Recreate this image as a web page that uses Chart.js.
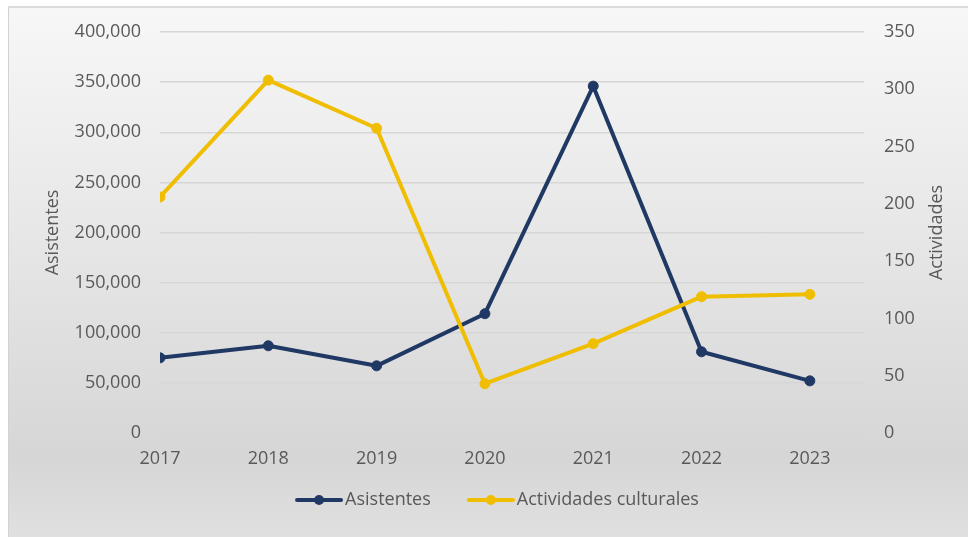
<!DOCTYPE html>
<html>
<head>
<meta charset="utf-8">
<script src="https://cdn.jsdelivr.net/npm/chart.js@4"></script>
<style>
  html, body { margin: 0; padding: 0; background: #fff; }
  #box {
    position: absolute; left: 8px; top: 6px;
    width: 959px; height: 529px;
    border-top: 2px solid #dcdcdc; border-left: 1px solid #d2d2d2;
    background: linear-gradient(#f7f7f7 0%, #e6e6e6 45%, #d6d6d6 85%, #e0e0e0 100%);
  }
  canvas { display: block; }
</style>
</head>
<body>
<div id="box"><canvas id="chart" width="959" height="529"></canvas></div>
<script>
// data
const years = [2017, 2018, 2019, 2020, 2021, 2022, 2023];
const asistentes = [75000, 87000, 67000, 119000, 346000, 81000, 52000];
const actividades = [206, 308, 266, 43, 78, 119, 121];

const navy = '#203864';
const gold = '#F0BE00';
const grey = '#595959';
const font = { family: '"Open Sans", sans-serif', size: 18 };

// legend swatch: line with a dot, pushed to the right side of the image
const boxW = 58;
function swatch(color) {
    const c = document.createElement('canvas');
    c.width = boxW + 14; c.height = 12;
    const g = c.getContext('2d');
    g.strokeStyle = color; g.fillStyle = color;
    g.lineWidth = 4; g.lineCap = 'round';
    g.beginPath(); g.moveTo(c.width - 46, 6); g.lineTo(c.width - 2, 6); g.stroke();
    g.beginPath(); g.arc(c.width - 24, 6, 5, 0, Math.PI * 2); g.fill();
    return c;
}

// right axis title reads bottom-to-top like the left one
const rightTitle = {
    id: 'rightTitle',
    afterDraw(chart) {
        const s = chart.scales.y1;
        const ctx = chart.ctx;
        ctx.save();
        ctx.translate(s.right - 31, (chart.chartArea.top + chart.chartArea.bottom) / 2);
        ctx.rotate(-Math.PI / 2);
        ctx.font = font.size + 'px ' + font.family;
        ctx.fillStyle = grey;
        ctx.textAlign = 'center';
        ctx.textBaseline = 'middle';
        ctx.fillText('Actividades', 0, 0);
        ctx.restore();
    }
};

new Chart(document.getElementById('chart'), {
    type: 'line',
    data: {
        datasets: [{
            label: 'Asistentes',
            data: years.map((y, i) => ({ x: y, y: asistentes[i] })),
            yAxisID: 'y',
            borderColor: navy,
            backgroundColor: navy,
            borderWidth: 4,
            pointRadius: 5,
            pointBorderWidth: 1,
            borderJoinStyle: 'round',
            borderCapStyle: 'round',
            order: 2
        }, {
            label: 'Actividades culturales',
            data: years.map((y, i) => ({ x: y, y: actividades[i] })),
            yAxisID: 'y1',
            borderColor: gold,
            backgroundColor: gold,
            borderWidth: 4,
            pointRadius: 5,
            pointBorderWidth: 1,
            borderJoinStyle: 'round',
            borderCapStyle: 'round',
            order: 1
        }]
    },
    options: {
        responsive: false,
        animation: false,
        layout: { padding: { top: 24, bottom: 18 } },
        plugins: {
            tooltip: { enabled: false },
            legend: {
                position: 'bottom',
                labels: {
                    color: grey,
                    font: font,
                    usePointStyle: true,
                    pointStyleWidth: boxW,
                    padding: 19,
                    generateLabels: function(chart) {
                        return chart.data.datasets.map((ds, i) => ({
                            text: ds.label,
                            fontColor: grey,
                            pointStyle: swatch(ds.borderColor),
                            datasetIndex: i,
                            hidden: false,
                            lineWidth: 0
                        }));
                    }
                }
            }
        },
        scales: {
            x: {
                type: 'linear',
                min: 2017,
                max: 2023.5,
                grid: { display: false, drawTicks: false },
                border: { display: false },
                ticks: {
                    stepSize: 1,
                    includeBounds: false,
                    color: grey,
                    font: font,
                    padding: 15,
                    maxRotation: 0,
                    autoSkip: false,
                    callback: v => Number.isInteger(v) ? String(v) : ''
                },
                afterFit: s => { s.height = 39; }
            },
            y: {
                position: 'left',
                min: 0,
                max: 400000,
                grid: { color: '#d6d6d6', lineWidth: 1.5, drawTicks: false },
                border: { display: false },
                ticks: {
                    stepSize: 50000,
                    color: grey,
                    font: font,
                    padding: 19,
                    callback: v => v.toLocaleString('en-US')
                },
                title: {
                    display: true,
                    text: 'Asistentes',
                    color: grey,
                    font: font,
                    padding: { top: 33, bottom: 0 }
                },
                afterFit: s => { s.width = 151; s.paddingTop = 0; s.paddingBottom = 0; }
            },
            y1: {
                position: 'right',
                min: 0,
                max: 350,
                grid: { display: false, drawTicks: false },
                border: { display: false },
                ticks: {
                    stepSize: 50,
                    color: grey,
                    font: font,
                    padding: 20
                },
                afterFit: s => { s.width = 104; s.paddingTop = 0; s.paddingBottom = 0; }
            }
        }
    },
    plugins: [rightTitle]
});
</script>
</body>
</html>
